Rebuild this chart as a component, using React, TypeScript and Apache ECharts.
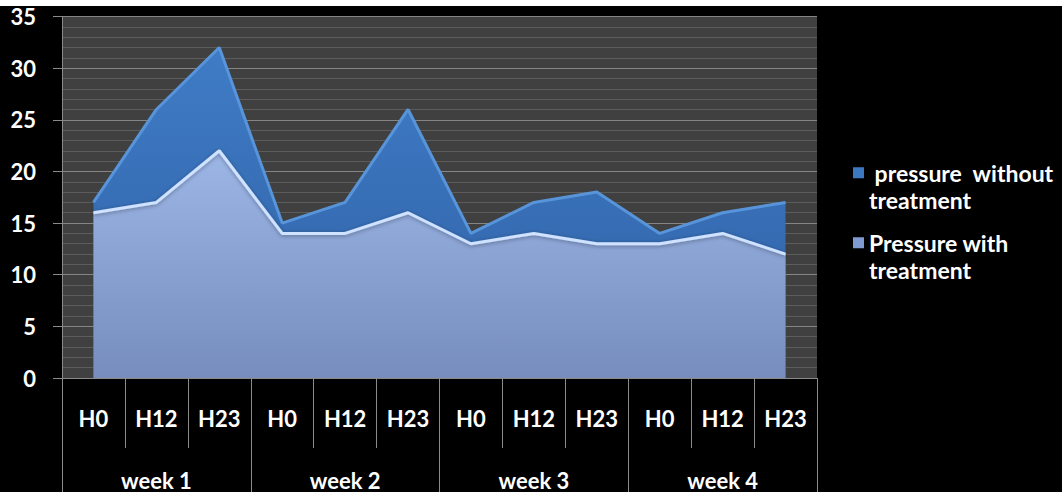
import React, { useEffect, useRef } from "react";
import * as echarts from "echarts";

const hours = ["H0", "H12", "H23", "H0", "H12", "H23", "H0", "H12", "H23", "H0", "H12", "H23"];
const weeks = ["week 1", "week 2", "week 3", "week 4"];
const withoutTreatment = [17, 26, 32, 15, 17, 26, 14, 17, 18, 14, 16, 17];
const withTreatment = [16, 17, 22, 14, 14, 16, 13, 14, 13, 13, 14, 12];
const nameWithout = "pressure  without treatment";
const nameWith = "Pressure with treatment";
const legendLabels: Record<string, string> = {
  [nameWithout]: "\n pressure  without\ntreatment",
  [nameWith]: "\nPressure with\ntreatment",
};

const FONT = "Lato, 'Open Sans', sans-serif";

export default function App() {
  const ref = useRef<HTMLDivElement>(null);
  useEffect(() => {
    if (!ref.current) return;
    const chart = echarts.init(ref.current, undefined, { renderer: "svg" });
    const legendText = {
      color: "#ffffff",
      fontSize: 23,
      fontWeight: "bold",
      fontFamily: FONT,
      lineHeight: 27.5,
    };
    chart.setOption({
      animation: false,
      backgroundColor: "#000000",
      textStyle: { fontFamily: FONT },
      graphic: [
        {
          type: "rect",
          left: 0,
          top: 0,
          z: -10,
          silent: true,
          shape: { width: 1063, height: 6 },
          style: { fill: "#ffffff" },
        },
      ],
      grid: {
        left: 62,
        right: 245,
        top: 16.5,
        bottom: 114,
        show: true,
        backgroundColor: "#404040",
        borderWidth: 0,
        containLabel: false,
      },
      legend: [
        {
          data: [nameWithout],
          orient: "vertical",
          left: 853,
          top: 131.5,
          padding: 0,
          icon: "rect",
          itemWidth: 11,
          itemHeight: 11,
          formatter: (n: string) => legendLabels[n],
          textStyle: legendText,
        },
        {
          data: [nameWith],
          orient: "vertical",
          left: 853,
          top: 201.5,
          padding: 0,
          icon: "rect",
          itemWidth: 11,
          itemHeight: 11,
          formatter: (n: string) => legendLabels[n],
          textStyle: legendText,
        },
      ],
      xAxis: [
        {
          type: "category",
          data: hours,
          position: "bottom",
          boundaryGap: true,
          axisLine: { show: true, lineStyle: { color: "#8a8a8a", width: 1 } },
          axisTick: { show: true, interval: 0, length: 70, lineStyle: { color: "#8a8a8a" } },
          axisLabel: {
            interval: 0,
            color: "#ffffff",
            fontSize: 22,
            fontWeight: "bold",
            margin: 29,
            fontFamily: FONT,
          },
          splitLine: { show: false },
        },
        {
          type: "category",
          data: weeks,
          position: "bottom",
          boundaryGap: true,
          axisLine: { show: false },
          axisTick: { show: true, interval: 0, length: 114, lineStyle: { color: "#8a8a8a" } },
          axisLabel: {
            interval: 0,
            color: "#ffffff",
            fontSize: 22,
            fontWeight: "bold",
            margin: 91,
            fontFamily: FONT,
          },
          splitLine: { show: false },
        },
      ],
      yAxis: {
        type: "value",
        min: 0,
        max: 35,
        interval: 5,
        axisLine: { show: true, lineStyle: { color: "#8a8a8a" } },
        axisTick: { show: true, length: 9, lineStyle: { color: "#8a8a8a" } },
        axisLabel: {
          color: "#ffffff",
          fontSize: 22,
          fontWeight: "bold",
          margin: 26,
          fontFamily: FONT,
        },
        splitLine: { show: true, lineStyle: { color: "#858585", width: 1 } },
        minorTick: { show: false, splitNumber: 5 },
        minorSplitLine: { show: true, lineStyle: { color: "#5c5c5c", width: 1 } },
      },
      series: [
        {
          name: nameWithout,
          type: "line",
          xAxisIndex: 0,
          data: withoutTreatment,
          showSymbol: false,
          symbol: "none",
          color: "#3c78c2",
          lineStyle: { color: "#5894da", width: 3 },
          areaStyle: {
            opacity: 1,
            color: new echarts.graphic.LinearGradient(0, 0, 0, 1, [
              { offset: 0, color: "#3f7cc6" },
              { offset: 1, color: "#2f60a4" },
            ]),
          },
          z: 2,
        },
        {
          name: nameWith,
          type: "line",
          xAxisIndex: 0,
          data: withTreatment,
          showSymbol: false,
          symbol: "none",
          color: "#7f9ad0",
          lineStyle: {
            color: "#cfe2ff",
            width: 3,
            shadowColor: "rgba(0,0,0,0.35)",
            shadowBlur: 4,
            shadowOffsetY: 1,
          },
          areaStyle: {
            opacity: 1,
            color: new echarts.graphic.LinearGradient(0, 0, 0, 1, [
              { offset: 0, color: "#9cb6e6" },
              { offset: 1, color: "#768dbd" },
            ]),
          },
          z: 3,
        },
      ],
    });
    return () => chart.dispose();
  }, []);
  return (
    <div
      ref={ref}
      style={{ position: "fixed", left: 0, top: 0, width: 1062, height: 492 }}
    />
  );
}
